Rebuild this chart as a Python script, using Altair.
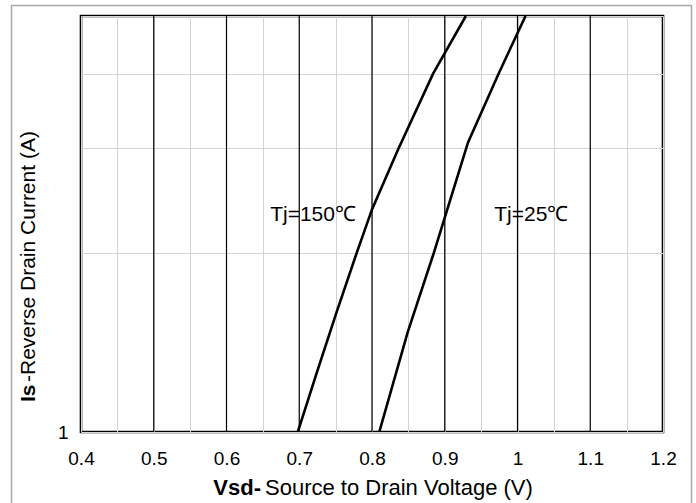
import altair as alt
import pandas as pd

# ---- data ----
v_150 = [0.698, 0.724, 0.751, 0.779, 0.800, 0.836, 0.884, 0.929]
i_150 = [1.0, 1.257, 1.586, 2.0, 2.366, 2.985, 4.0, 5.0]

v_25 = [0.810, 0.849, 0.885, 0.932, 0.974, 1.011]
i_25 = [1.0, 1.470, 2.0, 3.066, 4.0, 5.0]

x_ticks = [0.4, 0.45, 0.5, 0.55, 0.6, 0.65, 0.7, 0.75, 0.8, 0.85, 0.9, 0.95,
           1.0, 1.05, 1.1, 1.15, 1.2]
x_major = [0.5, 0.6, 0.7, 0.8, 0.9, 1.0, 1.1]
y_ticks = [1, 2, 3, 4, 5]

ann_text = ["Tj=150℃", "Tj=25℃"]
ann_v = [0.719, 1.019]
ann_i = [2.26, 2.26]

x_title_bold = "Vsd-"
x_title_rest = "Source to Drain Voltage (V)"
y_title_bold = "Is"
y_title_rest = "-Reverse  Drain Current  (A)"

FONT = "Liberation Sans, Arial, sans-serif"

curves = pd.concat([
    pd.DataFrame({"v": v_150, "i": i_150, "s": "150"}),
    pd.DataFrame({"v": v_25, "i": i_25, "s": "25"}),
])
majors = pd.DataFrame({"v": x_major})
ann = pd.DataFrame({"v": ann_v, "i": ann_i, "t": ann_text})

xscale = alt.Scale(domain=[0.4, 1.2], nice=False, zero=False)
yscale = alt.Scale(type="log", domain=[1, 5], nice=False)

xaxis = alt.Axis(
    values=x_ticks,
    labelExpr="round(datum.value*20) % 2 == 0 ? format(datum.value, '~g') : ''",
    grid=True, gridColor="#d4d4d4", gridWidth=1,
    ticks=False, domain=False, title=None,
    labelFont=FONT, labelFontSize=19, labelColor="black",
    labelPadding=17, labelFlush=False, labelOverlap=False,
)
yaxis = alt.Axis(
    values=y_ticks,
    labelExpr="datum.value == 1 ? '1' : ''",
    grid=True, gridColor="#d4d4d4", gridWidth=1,
    ticks=False, domain=False, title=None,
    labelFont=FONT, labelFontSize=19, labelColor="black",
    labelPadding=13, labelFlush=False, labelOverlap=False,
    labelBaseline="middle",
)

X = alt.X("v:Q", scale=xscale, axis=xaxis)
Y = alt.Y("i:Q", scale=yscale, axis=yaxis)

rules = alt.Chart(majors).mark_rule(color="black", strokeWidth=1.2).encode(x=X)

lines = alt.Chart(curves).mark_line(
    color="black", strokeWidth=2.6, clip=True
).encode(x=X, y=Y, detail="s:N", order="v:Q")

labels = alt.Chart(ann).mark_text(
    font=FONT, fontSize=21, color="black", align="center", baseline="alphabetic"
).encode(x=X, y=Y, text="t:N")

one = pd.DataFrame({"a": [0]})
border = alt.Chart(one).mark_rect(
    fill="transparent", stroke="#a8a8a8", strokeWidth=1.5
).encode(
    x=alt.value(-69.5), x2=alt.value(610.5), y=alt.value(-10.5), y2=alt.value(500)
)

xt_bold = alt.Chart(pd.DataFrame({"t": [x_title_bold]})).mark_text(
    font=FONT, fontSize=22, fontWeight="bold", color="black", align="right",
    baseline="alphabetic"
).encode(x=alt.value(180), y=alt.value(479), text="t:N")
xt_rest = alt.Chart(pd.DataFrame({"t": [x_title_rest]})).mark_text(
    font=FONT, fontSize=22, color="black", align="left", baseline="alphabetic"
).encode(x=alt.value(184), y=alt.value(479), text="t:N")

yt_bold = alt.Chart(pd.DataFrame({"t": [y_title_bold]})).mark_text(
    font=FONT, fontSize=21, fontWeight="bold", color="black", align="left",
    baseline="alphabetic", angle=270
).encode(x=alt.value(-46), y=alt.value(386), text="t:N")
yt_rest = alt.Chart(pd.DataFrame({"t": [y_title_rest]})).mark_text(
    font=FONT, fontSize=21, color="black", align="left",
    baseline="alphabetic", angle=270
).encode(x=alt.value(-46), y=alt.value(366), text="t:N")

chart = alt.layer(
    border, rules, lines, labels, xt_bold, xt_rest, yt_bold, yt_rest
).properties(
    width=582, height=416,
    autosize=alt.AutoSizeParams(type="none"),
    padding={"left": 81, "top": 16, "right": 33, "bottom": 71},
    background="white",
).configure_view(
    stroke="black", strokeWidth=2.6
)

chart.save("out.html", embed_options={"renderer": "svg", "actions": False})
